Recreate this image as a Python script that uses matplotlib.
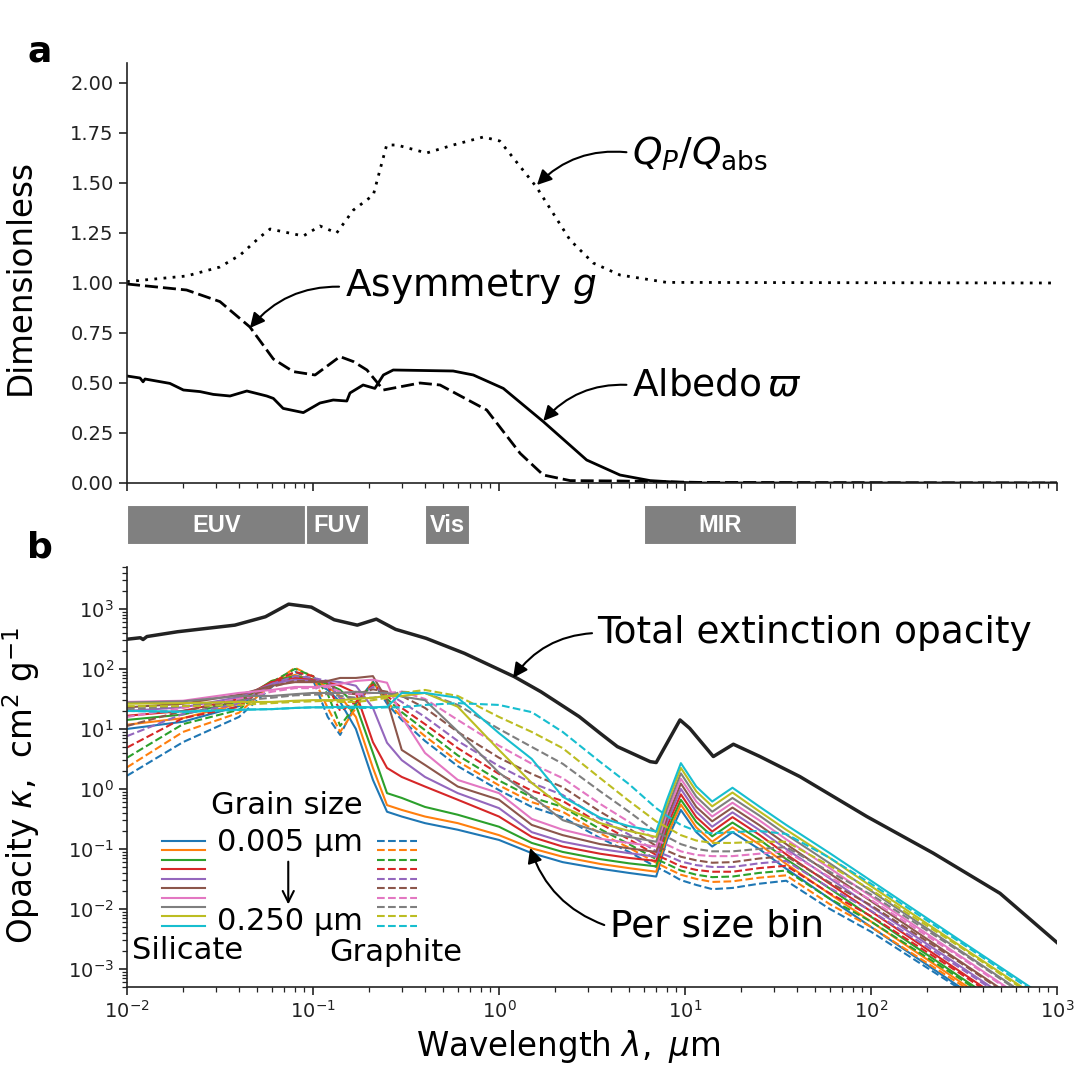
import numpy as np
import matplotlib.pyplot as plt
from matplotlib.ticker import LogLocator, NullFormatter, FormatStrFormatter

# ---- panel a: dimensionless averaged optical properties ----
alb_lam = [0.01, 0.01175, 0.0122, 0.0125, 0.017, 0.0201, 0.0247, 0.0291, 0.0358, 0.0441,
           0.0564, 0.0612, 0.0691, 0.0887, 0.109, 0.1285, 0.152, 0.158, 0.186, 0.215,
           0.239, 0.27, 0.567, 0.728, 1.055, 1.73, 2.96, 4.47, 6.49, 9.4, 12.0, 1000.0]
albedo = [0.535, 0.525, 0.506, 0.52, 0.498, 0.465, 0.457, 0.443, 0.435, 0.46,
          0.435, 0.423, 0.373, 0.352, 0.40, 0.415, 0.41, 0.45, 0.49, 0.473,
          0.54, 0.565, 0.56, 0.54, 0.473, 0.307, 0.115, 0.04, 0.012, 0.003, 0.0, 0.0]

asym_lam = [0.01, 0.0209, 0.0316, 0.0458, 0.0612, 0.0783, 0.1026, 0.1396, 0.165, 0.195,
            0.239, 0.376, 0.482, 0.859, 1.30, 1.73, 2.41, 4.47, 12.0, 1000.0]
asym_g = [0.995, 0.965, 0.907, 0.78, 0.62, 0.557, 0.54, 0.632, 0.607, 0.565,
          0.465, 0.50, 0.49, 0.365, 0.148, 0.04, 0.012, 0.01, 0.003, 0.0]

qp_lam = [0.01, 0.0209, 0.0316, 0.0406, 0.0519, 0.0588, 0.0887, 0.109, 0.134, 0.165,
          0.211, 0.229, 0.249, 0.282, 0.408, 0.567, 0.824, 1.01, 1.59, 2.41,
          3.21, 4.47, 7.97, 1000.0]
qp_qabs = [1.007, 1.035, 1.08, 1.14, 1.23, 1.27, 1.235, 1.285, 1.25, 1.365,
           1.44, 1.565, 1.69, 1.69, 1.65, 1.69, 1.73, 1.71, 1.48, 1.215,
           1.10, 1.04, 1.003, 1.0]

# ---- spectral bands ----
band_names = ['EUV', 'FUV', 'Vis', 'MIR']
band_lo = [0.01, 0.0912, 0.4, 6.0]
band_hi = [0.0912, 0.2, 0.7, 40.0]

# ---- panel b: opacities ----
tot_lam = [0.01, 0.0118, 0.0122, 0.0128, 0.0187, 0.038, 0.0555, 0.074, 0.098, 0.13,
           0.173, 0.219, 0.278, 0.406, 0.652, 1.21, 1.68, 2.7, 3.49, 4.33,
           6.5, 7.0, 9.4, 10.6, 14.2, 18.2, 25.3, 41.5, 95.0, 216.0, 494.0, 1000.0]
tot_logk = [2.495, 2.52, 2.49, 2.54, 2.62, 2.73, 2.87, 3.08, 3.03, 2.82,
            2.73, 2.83, 2.66, 2.51, 2.26, 1.87, 1.62, 1.205, 0.93, 0.705,
            0.455, 0.44, 1.15, 1.01, 0.54, 0.745, 0.54, 0.205, -0.46, -1.07, -1.74, -2.56]

bin_lam = [0.01, 0.02, 0.04, 0.06, 0.08, 0.1, 0.12, 0.14, 0.17, 0.21,
           0.25, 0.3, 0.4, 0.6, 1.0, 1.5, 2.2, 3.5, 5.0, 7.0,
           8.0, 9.5, 11.5, 14.0, 18.0, 25.0, 35.0, 60.0, 100.0, 300.0, 1000.0]

# log10 kappa, one row per wavelength, columns = grain size 0.005 ... 0.250 um
sil_logk = [
    [1.0, 1.07, 1.15, 1.22, 1.3, 1.36, 1.45, 1.44, 1.42, 1.3],
    [1.12, 1.18, 1.24, 1.3, 1.36, 1.42, 1.47, 1.46, 1.43, 1.29],
    [1.38, 1.42, 1.46, 1.5, 1.53, 1.57, 1.6, 1.55, 1.45, 1.32],
    [1.78, 1.8, 1.8, 1.78, 1.75, 1.72, 1.65, 1.55, 1.45, 1.33],
    [1.88, 1.9, 1.88, 1.85, 1.82, 1.78, 1.7, 1.58, 1.47, 1.35],
    [1.8, 1.82, 1.82, 1.82, 1.8, 1.78, 1.7, 1.6, 1.48, 1.36],
    [1.65, 1.7, 1.75, 1.78, 1.8, 1.8, 1.72, 1.6, 1.48, 1.36],
    [1.45, 1.55, 1.65, 1.72, 1.78, 1.85, 1.75, 1.6, 1.48, 1.37],
    [1.0, 1.2, 1.4, 1.6, 1.72, 1.85, 1.8, 1.62, 1.5, 1.37],
    [0.15, 0.35, 0.6, 0.78, 1.35, 1.88, 1.82, 1.6, 1.52, 1.36],
    [-0.38, -0.27, -0.07, 0.35, 0.77, 1.48, 1.77, 1.6, 1.55, 1.37],
    [-0.46, -0.35, -0.15, 0.2, 0.48, 0.65, 1.2, 1.54, 1.55, 1.6],
    [-0.57, -0.46, -0.3, 0.04, 0.2, 0.4, 0.6, 1.48, 1.6, 1.6],
    [-0.68, -0.57, -0.43, -0.18, -0.07, 0.04, 0.15, 0.96, 1.37, 1.52],
    [-0.85, -0.77, -0.63, -0.46, -0.32, -0.18, -0.07, 0.27, 0.65, 0.93],
    [-1.07, -0.99, -0.9, -0.8, -0.72, -0.6, -0.5, -0.12, 0.1, 0.5],
    [-1.22, -1.13, -1.05, -0.96, -0.88, -0.77, -0.68, -0.52, -0.3, -0.13],
    [-1.33, -1.25, -1.17, -1.08, -1.0, -0.92, -0.83, -0.72, -0.57, -0.48],
    [-1.4, -1.32, -1.24, -1.15, -1.07, -0.99, -0.9, -0.8, -0.7, -0.62],
    [-1.46, -1.38, -1.29, -1.2, -1.13, -1.05, -0.96, -0.88, -0.8, -0.71],
    [-0.85, -0.78, -0.7, -0.62, -0.55, -0.48, -0.4, -0.33, -0.25, -0.18],
    [-0.35, -0.26, -0.18, -0.09, 0.0, 0.09, 0.17, 0.26, 0.35, 0.43],
    [-0.72, -0.64, -0.55, -0.47, -0.38, -0.3, -0.21, -0.13, -0.04, 0.04],
    [-0.96, -0.88, -0.79, -0.71, -0.63, -0.54, -0.46, -0.38, -0.29, -0.21],
    [-0.72, -0.64, -0.56, -0.47, -0.39, -0.31, -0.23, -0.15, -0.06, 0.02],
    [-1.0, -0.92, -0.84, -0.76, -0.68, -0.6, -0.52, -0.44, -0.37, -0.29],
    [-1.33, -1.25, -1.17, -1.09, -1.0, -0.92, -0.84, -0.76, -0.68, -0.6],
    [-1.83, -1.75, -1.66, -1.58, -1.49, -1.41, -1.32, -1.24, -1.15, -1.07],
    [-2.3, -2.21, -2.13, -2.04, -1.96, -1.87, -1.79, -1.7, -1.62, -1.53],
    [-3.3, -3.21, -3.13, -3.04, -2.95, -2.87, -2.78, -2.69, -2.61, -2.52],
    [-4.4, -4.31, -4.22, -4.13, -4.04, -3.96, -3.87, -3.78, -3.69, -3.6],
]

gra_logk = [
    [0.22, 0.36, 0.52, 0.69, 0.88, 1.05, 1.2, 1.33, 1.38, 1.3],
    [0.78, 0.95, 1.08, 1.18, 1.25, 1.3, 1.35, 1.38, 1.38, 1.28],
    [1.2, 1.27, 1.32, 1.37, 1.42, 1.46, 1.5, 1.47, 1.4, 1.32],
    [1.7, 1.75, 1.78, 1.78, 1.75, 1.7, 1.62, 1.52, 1.43, 1.33],
    [1.95, 2.02, 2.0, 1.95, 1.88, 1.8, 1.68, 1.56, 1.45, 1.35],
    [1.82, 1.87, 1.88, 1.88, 1.85, 1.8, 1.68, 1.57, 1.46, 1.36],
    [1.2, 1.35, 1.58, 1.72, 1.8, 1.78, 1.7, 1.58, 1.47, 1.36],
    [0.9, 0.95, 1.05, 1.3, 1.5, 1.6, 1.62, 1.55, 1.45, 1.35],
    [1.42, 1.35, 1.4, 1.45, 1.52, 1.58, 1.58, 1.52, 1.45, 1.35],
    [1.79, 1.79, 1.77, 1.74, 1.7, 1.66, 1.6, 1.52, 1.48, 1.35],
    [1.42, 1.45, 1.5, 1.55, 1.6, 1.62, 1.6, 1.55, 1.52, 1.36],
    [1.15, 1.2, 1.28, 1.35, 1.45, 1.55, 1.62, 1.62, 1.6, 1.36],
    [0.8, 0.88, 0.98, 1.08, 1.2, 1.35, 1.5, 1.6, 1.65, 1.4],
    [0.38, 0.46, 0.56, 0.68, 0.8, 0.95, 1.15, 1.4, 1.55, 1.43],
    [-0.02, 0.06, 0.14, 0.25, 0.38, 0.52, 0.72, 1.0, 1.2, 1.4],
    [-0.3, -0.22, -0.14, -0.03, 0.1, 0.25, 0.42, 0.7, 0.95, 1.28],
    [-0.47, -0.38, -0.3, -0.2, -0.1, 0.03, 0.18, 0.42, 0.68, 0.95],
    [-0.82, -0.74, -0.67, -0.58, -0.5, -0.38, -0.25, -0.04, 0.18, 0.45],
    [-1.05, -0.98, -0.92, -0.84, -0.76, -0.66, -0.55, -0.38, -0.2, 0.08],
    [-1.3, -1.23, -1.17, -1.1, -1.04, -0.95, -0.85, -0.72, -0.54, -0.32],
    [-1.39, -1.32, -1.25, -1.18, -1.11, -1.03, -0.93, -0.8, -0.64, -0.45],
    [-1.52, -1.43, -1.36, -1.29, -1.21, -1.13, -1.04, -0.92, -0.77, -0.6],
    [-1.6, -1.5, -1.43, -1.35, -1.27, -1.19, -1.1, -1.0, -0.86, -0.7],
    [-1.67, -1.55, -1.47, -1.38, -1.3, -1.23, -1.12, -1.04, -0.9, -0.74],
    [-1.65, -1.54, -1.46, -1.38, -1.3, -1.22, -1.12, -1.04, -0.9, -0.72],
    [-1.58, -1.48, -1.4, -1.32, -1.24, -1.16, -1.08, -1.0, -0.88, -0.7],
    [-1.53, -1.44, -1.36, -1.28, -1.2, -1.12, -1.04, -0.97, -0.88, -0.75],
    [-2.0, -1.92, -1.83, -1.74, -1.65, -1.56, -1.47, -1.38, -1.28, -1.15],
    [-2.38, -2.3, -2.21, -2.12, -2.03, -1.94, -1.85, -1.76, -1.68, -1.58],
    [-3.33, -3.25, -3.16, -3.07, -2.98, -2.89, -2.8, -2.71, -2.63, -2.55],
    [-4.42, -4.34, -4.25, -4.16, -4.07, -3.98, -3.89, -3.8, -3.72, -3.64],
]

txt = '#222222'
plt.rcParams['font.family'] = ['DejaVu Sans']
plt.rcParams['mathtext.fontset'] = 'dejavusans'

W = 1084.0
fig = plt.figure(figsize=(10.84, 10.84), dpi=100)
axa = fig.add_axes([127 / W, 1 - 483 / W, 930 / W, 420 / W])
axb = fig.add_axes([127 / W, 1 - 987 / W, 930 / W, 420 / W])
axband = fig.add_axes([127 / W, 1 - 545 / W, 930 / W, 40 / W])

for ax in (axa, axb):
    ax.spines['top'].set_visible(False)
    ax.spines['right'].set_visible(False)
    for s in ('left', 'bottom'):
        ax.spines[s].set_linewidth(1.2)
        ax.spines[s].set_color(txt)
    ax.set_xscale('log')
    ax.set_xlim(0.01, 1000)
    ax.tick_params(which='major', length=6, width=1.2, labelsize=14, colors=txt)
    ax.tick_params(which='minor', length=3.5, width=0.9, colors=txt)
    ax.xaxis.set_major_locator(LogLocator(base=10, numticks=20))
    ax.xaxis.set_minor_locator(LogLocator(base=10, subs=np.arange(2, 10), numticks=20))
    ax.xaxis.set_minor_formatter(NullFormatter())

# panel a
axa.plot(alb_lam, albedo, color='k', lw=2)
axa.plot(asym_lam, asym_g, color='k', lw=2, ls=(0, (4.7, 1.8)))
axa.plot(qp_lam, qp_qabs, color='k', lw=2, ls=(0, (1, 2.3)))
axa.set_ylim(0, 2.1)
axa.set_yticks(np.arange(0, 2.01, 0.25))
axa.yaxis.set_major_formatter(FormatStrFormatter('%.2f'))
axa.tick_params(labelbottom=False)
axa.set_ylabel('Dimensionless', fontsize=23.5, color='k')
axa.yaxis.set_label_coords(-0.097, 0.49)


def arrow(rad):
    return dict(arrowstyle='-|>', connectionstyle=f'arc3,rad={rad}', color='k', lw=1.5,
                relpos=(0, 0.5), shrinkA=2, shrinkB=0, mutation_scale=22)


axa.annotate(r'$Q_P/Q_{\rm abs}$', xy=(1.6, 1.49), xytext=(0.543, 0.786),
             textcoords='axes fraction', fontsize=27, ha='left', va='center', arrowprops=arrow(0.25))
axa.annotate(r'Asymmetry $g$', xy=(0.0458, 0.775), xytext=(0.234, 0.467),
             textcoords='axes fraction', fontsize=27, ha='left', va='center', arrowprops=arrow(0.25))
axa.annotate(r'Albedo$\,\varpi$', xy=(1.73, 0.31), xytext=(0.543, 0.233),
             textcoords='axes fraction', fontsize=27, ha='left', va='center', arrowprops=arrow(0.25))

# bands
axband.set_xscale('log')
axband.set_xlim(0.01, 1000)
axband.set_ylim(0, 1)
axband.axis('off')
for name, lo, hi in zip(band_names, band_lo, band_hi):
    axband.barh(0.5, hi - lo, left=lo, height=1.0, color='#808080', edgecolor='white', lw=1.5)
    axband.text(np.sqrt(lo * hi), 0.5, name, color='white', fontsize=17, fontweight='bold',
                ha='center', va='center', family=['Liberation Sans'])

# panel b
sil = 10 ** np.array(sil_logk).T
gra = 10 ** np.array(gra_logk).T
for i in range(10):
    axb.plot(bin_lam, sil[i], color=f'C{i}', lw=1.5)
    axb.plot(bin_lam, gra[i], color=f'C{i}', lw=1.5, ls='--')
axb.plot(tot_lam, 10 ** np.array(tot_logk), color='#222222', lw=2.5)
axb.set_yscale('log')
axb.set_ylim(5e-4, 5e3)
axb.set_yticks([1e-3, 1e-2, 1e-1, 1e0, 1e1, 1e2, 1e3])
axb.yaxis.set_minor_locator(LogLocator(base=10, subs=np.arange(2, 10), numticks=20))
axb.yaxis.set_minor_formatter(NullFormatter())
axb.set_xlabel(r'Wavelength $\lambda,\ \mu$m', fontsize=23.5, color='k')
axb.xaxis.set_label_coords(0.474, -0.098)
axb.set_ylabel(r'Opacity $\kappa$,  cm$^2$ g$^{-1}$', fontsize=23.5, color='k')
axb.yaxis.set_label_coords(-0.091, 0.48)

axb.annotate('Total extinction opacity', xy=(1.19, 70.8), xytext=(0.506, 0.843),
             textcoords='axes fraction', fontsize=27, ha='left', va='center', arrowprops=arrow(0.25))
axb.annotate('Per size bin', xy=(1.47, 0.104), xytext=(0.519, 0.143),
             textcoords='axes fraction', fontsize=27, ha='left', va='center', arrowprops=arrow(-0.25))

# hand-made legend
for i in range(10):
    yy = 0.348 - 0.0225 * i
    axb.plot([0.0376, 0.0839], [yy, yy], color=f'C{i}', lw=1.5, transform=axb.transAxes)
    axb.plot([0.269, 0.312], [yy, yy], color=f'C{i}', lw=1.5, ls='--', transform=axb.transAxes)
axb.text(0.172, 0.433, 'Grain size', transform=axb.transAxes, fontsize=22, ha='center', va='center')
axb.text(0.175, 0.343, '0.005 µm', transform=axb.transAxes, fontsize=22, ha='center', va='center')
axb.text(0.175, 0.157, '0.250 µm', transform=axb.transAxes, fontsize=22, ha='center', va='center')
axb.annotate('', xy=(0.1734, 0.19), xytext=(0.1734, 0.305), xycoords='axes fraction',
             arrowprops=dict(arrowstyle='->', color='k', lw=1.5, mutation_scale=20))
axb.text(0.005, 0.086, 'Silicate', transform=axb.transAxes, fontsize=22, ha='left', va='center')
axb.text(0.218, 0.083, 'Graphite', transform=axb.transAxes, fontsize=22, ha='left', va='center')

fig.text(40 / W, 1 - 52 / W, 'a', fontsize=26, fontweight='bold', ha='center', va='center')
fig.text(40 / W, 1 - 548 / W, 'b', fontsize=26, fontweight='bold', ha='center', va='center')

fig.savefig('out.png', dpi=100)
